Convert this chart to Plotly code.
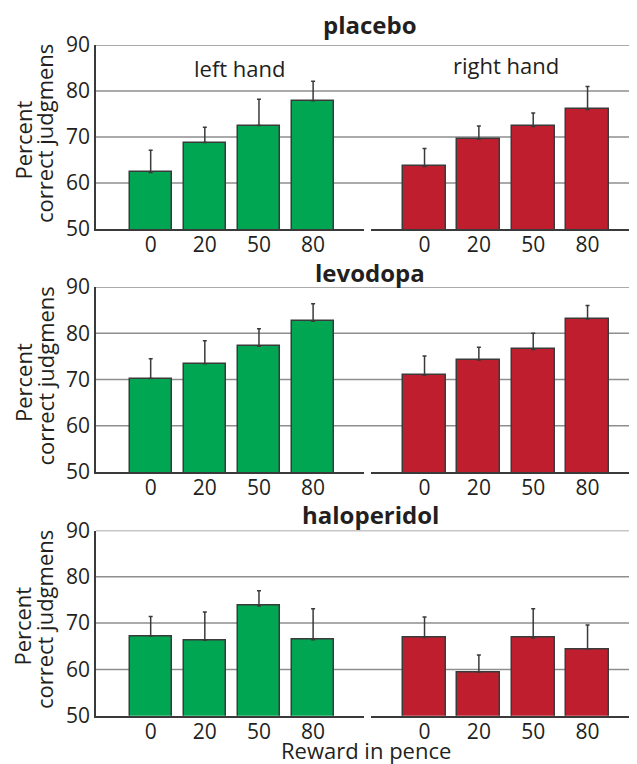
import plotly.graph_objects as go

# The page body adds an 8px margin, so the figure is 8px smaller and shifted.
OFF = 8
W, H = 637 - OFF, 764 - OFF


def fx(px):
    return (px - OFF) / W


def fy(py):
    return 1 - (py - OFF) / H


rewards = ["0", "20", "50", "80"]
panels = ["placebo", "levodopa", "haloperidol"]

placebo_left = [62.3, 68.8, 72.5, 77.9]
placebo_left_err = [4.8, 3.3, 5.7, 4.2]
placebo_right = [63.6, 69.5, 72.3, 76.0]
placebo_right_err = [3.9, 2.9, 2.9, 5.0]

levodopa_left = [70.2, 73.4, 77.2, 82.6]
levodopa_left_err = [4.3, 5.0, 3.8, 3.8]
levodopa_right = [70.9, 74.2, 76.5, 83.1]
levodopa_right_err = [4.2, 2.8, 3.5, 2.9]

halo_left = [67.2, 66.3, 73.7, 66.4]
halo_left_err = [4.2, 6.1, 3.3, 6.7]
halo_right = [66.9, 59.4, 66.8, 64.4]
halo_right_err = [4.4, 3.7, 6.3, 5.2]

y_ticks = [50, 60, 70, 80, 90]
grid_vals = [60, 70, 80, 90]

GREEN = "#00a651"
RED = "#be1e2d"
EDGE = "#3a3a3a"
GRID = "#8e8e8e"
TXT = "#231f20"
FONT = "Open Sans"

left_vals = [placebo_left, levodopa_left, halo_left]
left_errs = [placebo_left_err, levodopa_left_err, halo_left_err]
right_vals = [placebo_right, levodopa_right, halo_right]
right_errs = [placebo_right_err, levodopa_right_err, halo_right_err]

# pixel geometry in the final 637x764 picture (y of 90 and 50 per row)
rows_px = [(45, 229), (287, 472), (530.5, 715.7)]
title_px = [24, 272, 515]
x_left_dom = [fx(96), fx(364)]
x_right_dom = [fx(371), 1.0]

fig = go.Figure()
layout = dict(
    width=W, height=H, autosize=False,
    margin=dict(l=0, r=0, t=0, b=0, pad=0, autoexpand=False),
    paper_bgcolor="white", plot_bgcolor="rgba(0,0,0,0)",
    showlegend=False, bargap=0,
    font=dict(family=FONT, color=TXT),
)
shapes = []
annotations = []

for r in range(3):
    top_px, bot_px = rows_px[r]
    ydom = [fy(bot_px), fy(top_px)]
    xl = 2 * r + 1
    xr = 2 * r + 2
    for idx, vals, errs, color, dom, rng, bw in [
        (xl, left_vals[r], left_errs[r], GREEN, x_left_dom, [-1.01, 3.94], 0.78),
        (xr, right_vals[r], right_errs[r], RED, x_right_dom, [-0.985, 3.91], 0.79),
    ]:
        sfx = "" if idx == 1 else str(idx)
        fig.add_trace(go.Bar(
            x=rewards, y=vals, width=bw,
            marker=dict(color=color, line=dict(color=EDGE, width=1.5)),
            error_y=dict(type="data", array=errs, arrayminus=[0] * len(errs),
                         symmetric=False, color=EDGE, thickness=1.5, width=2),
            xaxis="x" + sfx, yaxis="y" + sfx,
        ))
        layout["xaxis" + sfx] = dict(
            domain=dom, range=rng, type="category", anchor="y" + sfx,
            automargin=False, ticklabelstandoff=-4,
            showgrid=False, zeroline=False, showline=True, linecolor=EDGE, linewidth=1.5,
            ticks="", tickfont=dict(size=21, family=FONT, color=TXT),
        )
        ycfg = dict(
            domain=ydom, range=[50, 90], anchor="x" + sfx, automargin=False,
            showgrid=False, zeroline=False, tickvals=y_ticks,
        )
        if idx == xl:
            ycfg.update(showline=True, linecolor=EDGE, linewidth=1.5, ticks="",
                        tickfont=dict(size=21, family=FONT, color=TXT))
        else:
            ycfg.update(showline=False, showticklabels=False)
        layout["yaxis" + sfx] = ycfg
    ysfx = "" if xl == 1 else str(xl)
    for g in grid_vals:
        shapes.append(dict(type="line", xref="paper", yref="y" + ysfx,
                           x0=fx(96), x1=1.0, y0=g, y1=g,
                           line=dict(color=GRID, width=1.5), layer="below"))
    annotations.append(dict(text="<b>%s</b>" % panels[r], xref="paper", yref="paper",
                            x=fx(370), y=fy(title_px[r]), showarrow=False,
                            xanchor="center", yanchor="middle",
                            font=dict(size=24, family=FONT, color=TXT)))
    mid = (top_px + bot_px) / 2
    annotations.append(dict(text="Percent", xref="paper", yref="paper",
                            x=fx(22.5), y=fy(mid + 3), showarrow=False,
                            textangle=-90, xanchor="center", yanchor="middle",
                            font=dict(size=22, family=FONT, color=TXT)))
    annotations.append(dict(text="correct judgmens", xref="paper", yref="paper",
                            x=fx(44), y=fy(mid - 3), showarrow=False,
                            textangle=-90, xanchor="center", yanchor="middle",
                            font=dict(size=22, family=FONT, color=TXT)))

annotations.append(dict(text="left hand", xref="paper", yref="paper",
                        x=fx(240), y=fy(68), showarrow=False,
                        xanchor="center", yanchor="middle",
                        font=dict(size=22, family=FONT, color=TXT)))
annotations.append(dict(text="right hand", xref="paper", yref="paper",
                        x=fx(506), y=fy(65), showarrow=False,
                        xanchor="center", yanchor="middle",
                        font=dict(size=22, family=FONT, color=TXT)))
annotations.append(dict(text="Reward in pence", xref="paper", yref="paper",
                        x=fx(366), y=fy(749.5), showarrow=False,
                        xanchor="center", yanchor="middle",
                        font=dict(size=22, family=FONT, color=TXT)))

layout["shapes"] = shapes
layout["annotations"] = annotations
fig.update_layout(**layout)
fig.write_html("out.html")
